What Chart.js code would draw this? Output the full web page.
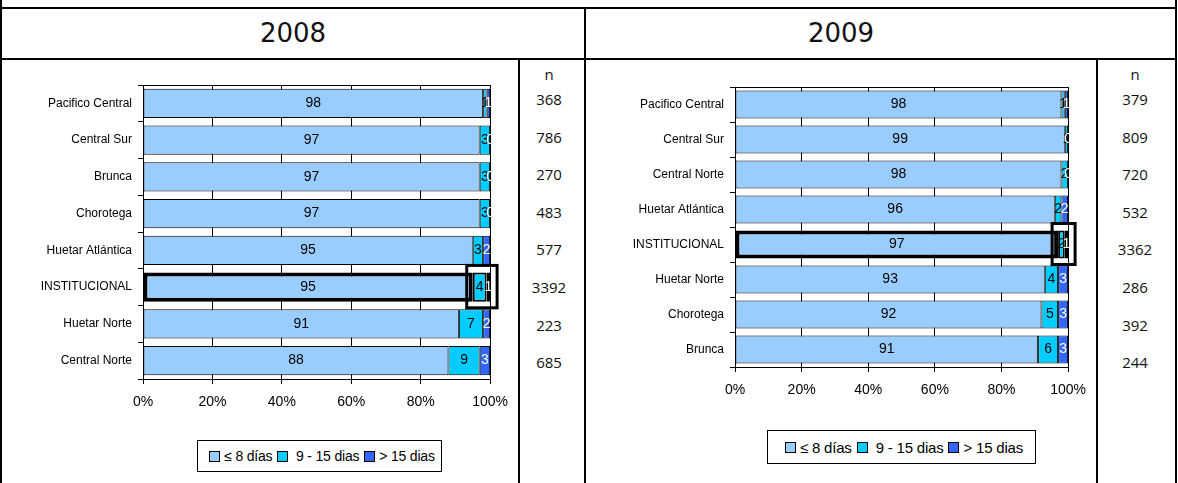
<!DOCTYPE html>
<html>
<head>
<meta charset="utf-8">
<script src="https://cdn.jsdelivr.net/npm/chart.js@4"></script>
<style>
  body { margin: 0; background: #fff; width: 1178px; height: 483px; position: relative; overflow: hidden; }
  .line { position: absolute; background: #000; }
  .year { position: absolute; top: 9px; height: 49px; line-height: 49px; text-align: center;
          font-family: "DejaVu Sans", sans-serif; font-size: 26px; color: #111; }
  canvas { position: absolute; }
  .ncol { position: absolute; text-align: center; font-family: "Open Sans", sans-serif; font-size: 15px; color: #111; }
  .ncol div { height: 37.6px; line-height: 37.6px; }
  .nhead { position: absolute; top: 64px; height: 20px; line-height: 20px; text-align: center;
           font-family: "Open Sans", sans-serif; font-size: 15px; color: #111; }
  .legend { position: absolute; border: 1px solid #000; box-sizing: border-box; background: #fff;
            display: flex; align-items: center; justify-content: center;
            font-family: "Liberation Sans", Arial, sans-serif; font-size: 14px; color: #000; letter-spacing: -0.2px; }
  .legend span.box { display: inline-block; width: 9px; height: 9px; border: 1px solid #000; margin: 0 4px 0 5px; }
</style>
</head>
<body>
<!-- table borders -->
<div class="line" style="left:0;top:0;width:2px;height:483px"></div>
<div class="line" style="left:1175px;top:0;width:2px;height:483px"></div>
<div class="line" style="left:0;top:7px;width:1177px;height:2px"></div>
<div class="line" style="left:0;top:58px;width:1177px;height:2px"></div>
<div class="line" style="left:584px;top:8px;width:2px;height:475px"></div>
<div class="line" style="left:518px;top:59px;width:2px;height:424px"></div>
<div class="line" style="left:1096px;top:59px;width:2px;height:424px"></div>

<div class="year" style="left:2px;width:582px">2008</div>
<div class="year" style="left:586px;width:510px;">2009</div>

<canvas id="chart2008" width="516" height="360" style="left:2px;top:60px"></canvas>
<canvas id="chart2009" width="510" height="348" style="left:586px;top:60px"></canvas>

<div class="nhead" style="left:520px;width:58px">n</div>
<div class="nhead" style="left:1098px;width:74px">n</div>
<div class="ncol" id="n2008" style="left:520px;width:58px;top:81px"></div>
<div class="ncol" id="n2009" style="left:1098px;width:74px;top:81px"></div>

<div class="legend" id="legend2008" style="left:197px;top:440px;width:245px;height:32px"></div>
<div class="legend" id="legend2009" style="left:767px;top:430px;width:269px;height:34px;font-size:15px"></div>

<script>
const seriesLabels = ['≤ 8 días', '9 - 15 dias', '> 15 dias'];
const seriesColors = ['#99CCFF', '#00CCFF', '#3366FF'];
const labelColors = ['#000', '#000', '#fff'];
const xTicks = [0, 20, 40, 60, 80, 100];

const categories2008 = ['Pacifico Central', 'Central Sur', 'Brunca', 'Chorotega', 'Huetar Atlántica', 'INSTITUCIONAL', 'Huetar Norte', 'Central Norte'];
const upTo8_2008 = [98, 97, 97, 97, 95, 95, 91, 88];
const from9to15_2008 = [1, 3, 3, 3, 3, 4, 7, 9];
const over15_2008 = [1, 0, 0, 0, 2, 1, 2, 3];
const n2008 = [368, 786, 270, 483, 577, 3392, 223, 685];

const categories2009 = ['Pacifico Central', 'Central Sur', 'Central Norte', 'Huetar Atlántica', 'INSTITUCIONAL', 'Huetar Norte', 'Chorotega', 'Brunca'];
const upTo8_2009 = [98, 99, 98, 96, 97, 93, 92, 91];
const from9to15_2009 = [1, 1, 2, 2, 2, 4, 5, 6];
const over15_2009 = [1, 0, 0, 2, 1, 3, 3, 3];
const n2009 = [379, 809, 720, 532, 3362, 286, 392, 244];

const highlight = 'INSTITUCIONAL';

// numbers in the middle of each segment
const segmentLabels = {
  id: 'segmentLabels',
  afterDatasetsDraw(chart) {
    const ctx = chart.ctx;
    ctx.save();
    ctx.font = '14px "Liberation Sans", Arial, sans-serif';
    ctx.textAlign = 'center';
    ctx.textBaseline = 'middle';
    chart.data.datasets.forEach((ds, i) => {
      chart.getDatasetMeta(i).data.forEach((bar, j) => {
        const p = bar.getProps(['x', 'y', 'base'], true);
        ctx.fillStyle = labelColors[i];
        ctx.fillText(String(ds.data[j]), (p.x + p.base) / 2, p.y);
      });
    });
    ctx.restore();
  }
};

// top edge of the plot + box round the INSTITUCIONAL tail
const frame = {
  id: 'frame',
  beforeDatasetsDraw(chart) {
    const ctx = chart.ctx, a = chart.chartArea;
    ctx.save();
    ctx.strokeStyle = '#000';
    ctx.lineWidth = 1;
    ctx.beginPath();
    ctx.moveTo(a.left, a.top + 0.5);
    ctx.lineTo(a.right, a.top + 0.5);
    ctx.stroke();
    ctx.restore();
  },
  afterDraw(chart) {
    const idx = chart.data.labels.indexOf(highlight);
    if (idx < 0) return;
    const ctx = chart.ctx;
    const x = chart.scales.x;
    const bar = chart.getDatasetMeta(0).data[idx];
    const h = bar.height;
    const left = x.getPixelForValue(chart.data.datasets[0].data[idx]) - 6;
    const right = x.getPixelForValue(100) + 7;
    ctx.save();
    ctx.strokeStyle = '#000';
    ctx.lineWidth = 3;
    ctx.strokeRect(left, bar.y - h / 2 - 7, right - left, h + 13);
    ctx.restore();
  }
};

function makeChart(id, categories, s1, s2, s3, yWidth, pad) {
  const series = [s1, s2, s3];
  const hi = categories.indexOf(highlight);
  return new Chart(document.getElementById(id), {
    type: 'bar',
    data: {
      labels: categories,
      datasets: series.map((d, i) => ({
        label: seriesLabels[i],
        data: d,
        backgroundColor: seriesColors[i],
        borderColor: '#000',
        borderWidth: categories.map((c, j) => j === hi ? (i === 0 ? 4 : 2) : 1),
        borderSkipped: false,
        barPercentage: 0.8,
        categoryPercentage: 1.0
      }))
    },
    options: {
      indexAxis: 'y',
      responsive: false,
      animation: false,
      devicePixelRatio: 1,
      layout: { padding: pad },
      plugins: { legend: { display: false }, tooltip: { enabled: false } },
      scales: {
        x: {
          type: 'linear', stacked: true, min: 0, max: 100,
          afterBuildTicks: s => { s.ticks = xTicks.map(v => ({ value: v })); },
          afterFit: s => { s.height = 36; },
          ticks: {
            callback: v => v + '%',
            color: '#000', padding: 10,
            font: { family: '"Liberation Sans", Arial, sans-serif', size: 14 }
          },
          grid: { color: '#000', lineWidth: 1, tickLength: 5 },
          border: { color: '#000', width: 1 }
        },
        y: {
          stacked: true,
          afterFit: s => { s.width = yWidth; },
          ticks: {
            color: '#000', padding: 6,
            font: { family: '"Liberation Sans", Arial, sans-serif', size: 12 }
          },
          grid: { offset: true, drawOnChartArea: false, tickLength: 5, color: '#000' },
          border: { color: '#000', width: 1 }
        }
      }
    },
    plugins: [frame, segmentLabels]
  });
}

makeChart('chart2008', categories2008, upTo8_2008, from9to15_2008, over15_2008, 141,
  { top: 25, right: 25, bottom: 5, left: 0 });
makeChart('chart2009', categories2009, upTo8_2009, from9to15_2009, over15_2009, 149,
  { top: 27, right: 27, bottom: 5, left: 0 });

function fillN(id, values) {
  const col = document.getElementById(id);
  values.forEach(v => {
    const d = document.createElement('div');
    d.textContent = v;
    col.appendChild(d);
  });
}
fillN('n2008', n2008);
fillN('n2009', n2009);

function fillLegend(id) {
  const el = document.getElementById(id);
  seriesLabels.forEach((lab, i) => {
    const b = document.createElement('span');
    b.className = 'box';
    b.style.background = seriesColors[i];
    el.appendChild(b);
    const t = document.createElement('span');
    t.textContent = (i === 1 ? '\u00a0' : '') + lab;
    el.appendChild(t);
  });
}
fillLegend('legend2008');
fillLegend('legend2009');
</script>
</body>
</html>
